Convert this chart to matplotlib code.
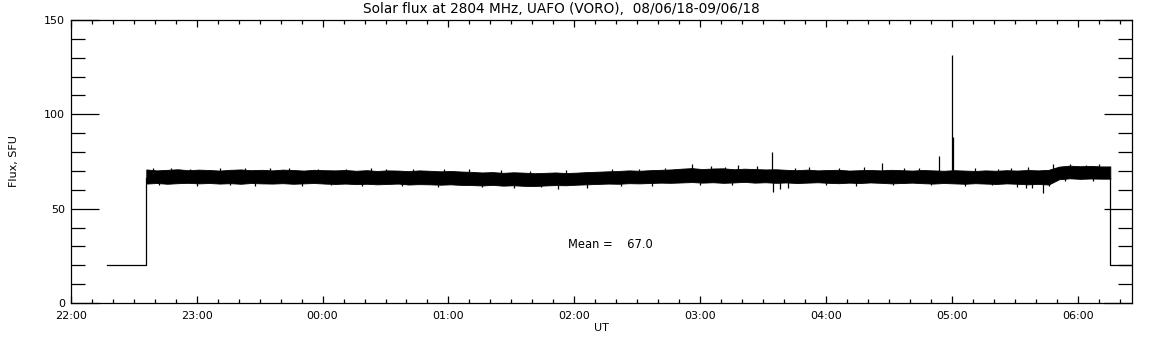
import numpy as np
import matplotlib.pyplot as plt
from matplotlib.ticker import MultipleLocator, FuncFormatter

# time in minutes after 22:00 UT
t_off_start, t_on, t_off_end, t_axis_end = 17.3, 36.0, 495.4, 505.6
off_level = 20.0

# envelope of the noisy trace, sampled every 5 min from 22:36
band_t = np.arange(36, 496, 5)
upper = [
    70.8, 70.3, 70.6, 70.9, 70.4, 70.7, 70.5, 70.2, 70.6, 70.8,
    70.4, 70.6, 70.3, 70.7, 70.5, 70.2, 70.6, 70.4, 70.3, 70.5,
    70.1, 70.4, 70.0, 70.3, 70.2, 69.9, 70.3, 70.1, 69.8, 70.0,
    69.7, 69.5, 69.2, 69.4, 69.0, 69.3, 69.1, 68.8, 69.0, 69.2,
    68.9, 69.1, 69.4, 69.6, 69.8, 70.0, 70.3, 70.1, 70.4, 70.6,
    70.8, 71.2, 71.5, 71.0, 71.3, 71.4, 70.9, 71.2, 71.0, 70.8,
    70.9, 70.6, 70.4, 70.7, 70.3, 70.5, 70.6, 70.2, 70.4, 70.5,
    70.3, 70.6, 70.4, 70.2, 70.5, 70.3, 70.1, 70.4, 70.2, 70.0,
    70.3, 70.1, 70.4, 70.2, 70.5, 70.3, 70.6, 72.3, 72.8, 72.5,
    72.7, 72.4]
lower = [
    63.3, 63.6, 63.2, 63.5, 63.7, 63.4, 63.6, 63.3, 63.5, 63.2,
    63.6, 63.4, 63.3, 63.5, 63.2, 63.4, 63.6, 63.3, 63.1, 63.3,
    63.0, 63.2, 62.9, 63.1, 63.3, 62.8, 63.0, 62.9, 62.7, 62.9,
    62.6, 62.5, 62.3, 62.6, 62.2, 62.4, 62.1, 62.0, 62.3, 62.5,
    62.4, 62.7, 62.9, 63.1, 63.3, 63.2, 63.5, 63.4, 63.6, 63.8,
    63.7, 63.9, 64.1, 63.8, 64.0, 63.7, 63.9, 64.2, 63.8, 64.0,
    63.7, 63.9, 63.6, 63.8, 64.0, 63.7, 63.5, 63.8, 63.6, 63.9,
    63.7, 63.4, 63.6, 63.8, 63.5, 63.3, 63.6, 63.4, 63.2, 63.5,
    63.3, 63.1, 63.4, 63.2, 62.9, 63.1, 62.8, 65.6, 66.1, 65.8,
    66.0, 65.9]

# single-sample excursions above the band (time, value)
spike_up_t = [39, 48, 57, 71, 83, 95, 104, 118, 131, 143, 150, 163, 178, 190,
              205, 219, 236, 258, 271, 283, 296, 305, 312, 318, 327, 334.3,
              345, 352, 366, 378, 386.7, 397, 404, 413.8, 419.9, 420.4,
              431, 442, 448, 456, 468, 476, 484, 490]
spike_up_v = [71.6, 71.8, 71.2, 71.5, 71.3, 71.3, 71.6, 71.2, 71.0, 71.4,
              71.1, 70.9, 71.2, 70.8, 70.3, 70.1, 70.6, 70.9, 71.2, 71.4,
              73.5, 72.6, 72.2, 72.9, 72.4, 79.9, 71.8, 72.0, 71.6, 71.9,
              74.0, 71.5, 71.8, 77.9, 131.4, 88.0, 71.4, 71.2, 71.6, 71.9,
              73.5, 73.8, 73.4, 73.6]
# single-sample excursions below the band (time, value)
spike_dn_t = [42, 60, 76, 88, 110, 124, 139, 158, 175, 196, 211, 224, 232,
              246, 262, 277, 300, 315, 334.6, 338, 342, 360, 374, 392, 410,
              426, 439, 451, 455, 458, 463.3, 466, 474, 487]
spike_dn_v = [62.4, 62.0, 62.5, 62.2, 61.8, 62.3, 62.0, 61.9, 61.5, 61.4,
              61.2, 61.3, 60.6, 60.9, 61.8, 62.2, 62.4, 62.3, 58.7, 60.5,
              61.0, 62.5, 62.2, 62.6, 62.3, 62.1, 62.4, 61.6, 61.2, 60.8,
              58.5, 62.0, 64.8, 64.6]

mean_flux = 67.0
title = "Solar flux at 2804 MHz, UAFO (VORO),  08/06/18-09/06/18"

fig = plt.figure(figsize=(11.52, 3.45), dpi=100)
ax = fig.add_axes([0.0614, 0.1217, 0.9210, 0.8203])

ax.plot([t_off_start, t_on, t_on], [off_level, off_level, 66], color='k', lw=0.9)
ax.plot([t_off_end, t_off_end, t_axis_end], [66, off_level, off_level], color='k', lw=0.9)

bt = np.append(band_t, t_off_end)
ax.fill_between(bt, upper + [upper[-1]], lower + [lower[-1]],
                color='k', lw=0.6, edgecolor='k')
ax.vlines(spike_up_t, 67, spike_up_v, color='k', lw=0.9)
ax.vlines(spike_dn_t, 67, spike_dn_v, color='k', lw=0.9)

ax.text(237, 31, "Mean =    %.1f" % mean_flux, fontsize=8.3, va='center', ha='left')

ax.set_xlim(0, t_axis_end)
ax.set_ylim(0, 150)
ax.xaxis.set_major_locator(MultipleLocator(60))
ax.xaxis.set_minor_locator(MultipleLocator(10))
ax.yaxis.set_major_locator(MultipleLocator(50))
ax.yaxis.set_minor_locator(MultipleLocator(10))
ax.xaxis.set_major_formatter(FuncFormatter(
    lambda v, p: "%02d:%02d" % (((int(round(v)) // 60) + 22) % 24, int(round(v)) % 60)))

ax.tick_params(axis='x', which='major', direction='in', length=5, width=0.9,
               top=True, labelsize=8, pad=6)
ax.tick_params(axis='x', which='minor', direction='in', length=3, width=0.9, top=True)
ax.tick_params(axis='y', which='major', direction='in', length=20, width=0.9,
               right=True, labelsize=8, pad=4)
ax.tick_params(axis='y', which='minor', direction='in', length=10, width=0.9, right=True)
for s in ax.spines.values():
    s.set_linewidth(0.9)

ax.set_xlabel("UT", fontsize=8, labelpad=1)
ax.set_ylabel("Flux, SFU", fontsize=8, labelpad=18)
fig.text(0.4876, 0.961, title, fontsize=9.8, ha='center', va='baseline')

fig.savefig("out.png", dpi=100)
